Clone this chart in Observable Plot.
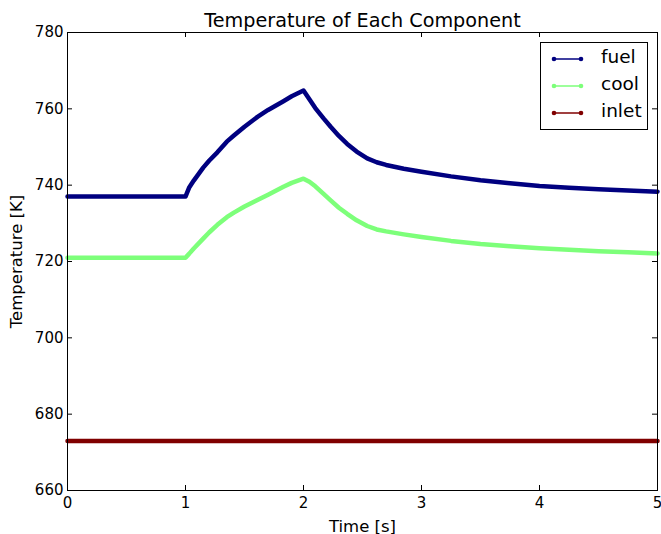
<!DOCTYPE html>
<html>
<head>
<meta charset="utf-8">
<script src="https://cdn.jsdelivr.net/npm/d3@7"></script>
<script src="https://cdn.jsdelivr.net/npm/@observablehq/plot@0.6"></script>
<style>
  html, body { margin: 0; padding: 0; background: #fff; }
  #wrap { position: relative; width: 661px; height: 534px; font-family: "DejaVu Sans", sans-serif; }
  #legend { position: absolute; left: 540px; top: 42px; width: 108px; height: 88px; border: 1px solid #000; background: #fff; box-sizing: border-box; }
  #legend .row { position: absolute; left: 0; height: 22px; font-size: 18.5px; line-height: 22px; }
  #legend svg { position: absolute; left: 10px; top: 1px; }
  #legend span { position: absolute; left: 60px; top: -2px; }
</style>
</head>
<body>
<div id="wrap"></div>
<script>
const chartTitle = "Temperature of Each Component";
const xLabel = "Time [s]";
const yLabel = "Temperature [K]";
const seriesNames = ["fuel", "cool", "inlet"];
const seriesColors = ["#000080", "#7dff7a", "#800000"];
const time  = [0, 1, 1.03, 1.07, 1.15, 1.2, 1.27, 1.35, 1.41, 1.5, 1.61, 1.7, 1.83, 1.9, 2.0, 2.05, 2.1, 2.17, 2.23, 2.3, 2.37, 2.45, 2.54, 2.62, 2.7, 2.85, 3.0, 3.25, 3.5, 3.75, 4.0, 4.25, 4.5, 4.75, 5.0];
const fuel  = [737, 737, 739.3, 741.2, 744.6, 746.4, 748.6, 751.4, 753.0, 755.3, 757.9, 759.7, 762.0, 763.3, 764.8, 762.5, 760.2, 757.5, 755.3, 752.9, 750.8, 748.8, 747.0, 746.0, 745.3, 744.3, 743.5, 742.3, 741.3, 740.5, 739.8, 739.3, 738.9, 738.6, 738.3];
const cool  = [721, 721, 722.0, 723.4, 726.0, 727.6, 729.6, 731.6, 732.8, 734.4, 736.1, 737.5, 739.6, 740.6, 741.7, 740.9, 739.7, 737.7, 736.0, 734.1, 732.5, 730.8, 729.3, 728.4, 727.9, 727.1, 726.4, 725.4, 724.6, 724.0, 723.5, 723.1, 722.7, 722.4, 722.1];
const inlet = [673, 673, 673, 673, 673, 673, 673, 673, 673, 673, 673, 673, 673, 673, 673, 673, 673, 673, 673, 673, 673, 673, 673, 673, 673, 673, 673, 673, 673, 673, 673, 673, 673, 673, 673];
const xTicks = [0, 1, 2, 3, 4, 5];
const yTicks = [660, 680, 700, 720, 740, 760, 780];

const values = [fuel, cool, inlet];
const rows = [];
seriesNames.forEach((name, i) => {
  time.forEach((t, j) => rows.push({series: name, t, v: values[i][j]}));
});

const W = 661, H = 534;
const mL = 67, mR = 4, mT = 32, mB = 44;
const pw = W - mL - mR, ph = H - mT - mB;
const tl = 5;

const chart = Plot.plot({
  width: W, height: H,
  marginLeft: mL, marginRight: mR, marginTop: mT, marginBottom: mB,
  style: { fontFamily: "DejaVu Sans, sans-serif", background: "#fff", color: "#000", overflow: "visible" },
  x: { domain: [0, 5], ticks: xTicks, label: null },
  y: { domain: [660, 780], ticks: yTicks, label: null },
  color: { domain: seriesNames, range: seriesColors },
  marks: [
    Plot.line(rows, { x: "t", y: "v", z: "series", stroke: "series", strokeWidth: 4.5, curve: "linear" }),
    Plot.frame({ stroke: "#000", strokeWidth: 1 }),
    Plot.tickX(xTicks, { x: d => d, insetTop: ph - tl, stroke: "#000" }),
    Plot.tickX(xTicks, { x: d => d, insetBottom: ph - tl, stroke: "#000" }),
    Plot.tickY(yTicks, { y: d => d, insetRight: pw - tl, stroke: "#000" }),
    Plot.tickY(yTicks, { y: d => d, insetLeft: pw - tl, stroke: "#000" }),
    Plot.axisX(xTicks, { anchor: "bottom", tickSize: 0, tickPadding: 7, fontSize: 15, tickFormat: d3.format("d"), label: xLabel, labelAnchor: "center", labelArrow: "none", labelOffset: 41 }),
    Plot.axisY(yTicks, { anchor: "left", tickSize: 0, tickPadding: 4, fontSize: 15, label: yLabel, labelAnchor: "center", labelArrow: "none", labelOffset: 57 }),
    Plot.text([chartTitle], { frameAnchor: "top", dy: -6, lineAnchor: "bottom", fontSize: 19.2, fill: "#000" })
  ]
});

const wrap = document.getElementById("wrap");
wrap.appendChild(chart);
chart.querySelectorAll('[aria-label="x-axis label"] text, [aria-label="y-axis label"] text').forEach(t => t.setAttribute("font-size", 16.5));

const legend = document.createElement("div");
legend.id = "legend";
seriesNames.forEach((name, i) => {
  const row = document.createElement("div");
  row.className = "row";
  row.style.top = (5 + i * 27) + "px";
  row.style.width = "100%";
  const c = seriesColors[i];
  row.innerHTML = `<svg width="34" height="20"><line x1="3" y1="10" x2="30" y2="10" stroke="${c}" stroke-width="1.5"/><circle cx="3" cy="10" r="2.3" fill="${c}"/><circle cx="30" cy="10" r="2.3" fill="${c}"/></svg><span>${name}</span>`;
  legend.appendChild(row);
});
wrap.appendChild(legend);
</script>
</body>
</html>
